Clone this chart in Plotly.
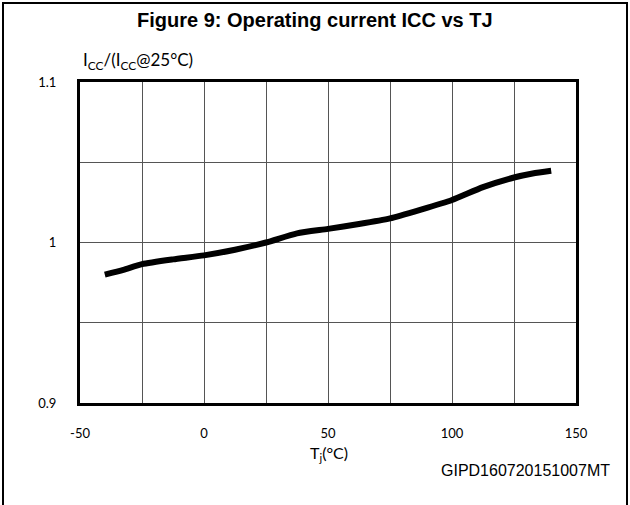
import plotly.graph_objects as go

# Data
tj = [-40, -32.5, -25, -12.5, 0, 12.5, 25, 37.5, 50, 62.5, 75, 87.5, 100, 112.5, 125, 132.5, 140]
icc_ratio = [0.980, 0.983, 0.9865, 0.9895, 0.992, 0.9955, 1.000, 1.0057, 1.0085, 1.0115,
             1.015, 1.0205, 1.0265, 1.0345, 1.0405, 1.043, 1.0447]

x_ticks = [-50, 0, 50, 100, 150]
x_ticktext = ["-50", "0", "50", "100", "150"]
y_ticks = [0.9, 1.0, 1.1]
y_ticktext = ["0.9", "1", "1.1"]

title_text = "<b>Figure 9: Operating current ICC vs TJ</b>"
y_label = "I<sub>CC</sub>/(I<sub>CC</sub>@25°C)"
x_label = "T<sub>j</sub>(°C)"
code_text = "GIPD160720151007MT"

W, H = 630, 505
L, R, T, B = 80, 54, 82, 102
pw, ph = W - L - R, H - T - B

def px_x(p):
    return (p - L) / pw

def px_y(p):
    return (H - B - p) / ph

tick_font = dict(family="Lato, Open Sans, sans-serif", size=13, color="#000")

fig = go.Figure()
fig.add_trace(go.Scatter(
    x=tj, y=icc_ratio, mode="lines",
    line=dict(color="black", width=6, shape="spline", smoothing=0.6),
    hoverinfo="skip", showlegend=False,
))

axis_common = dict(
    showline=True, linecolor="black", linewidth=3, mirror=True,
    showgrid=True, gridcolor="#555", gridwidth=1,
    zeroline=False, ticks="", tickfont=tick_font,
)

fig.update_xaxes(
    range=[-50, 150], tickvals=x_ticks, ticktext=x_ticktext,
    minor=dict(dtick=25, tick0=-50, showgrid=True, gridcolor="#555", gridwidth=1),
    ticklabelstandoff=16,
    **axis_common,
)
fig.update_yaxes(
    range=[0.9, 1.1], tickvals=y_ticks, ticktext=y_ticktext,
    minor=dict(dtick=0.05, tick0=0.9, showgrid=True, gridcolor="#555", gridwidth=1),
    ticklabelstandoff=18,
    **axis_common,
)

annotations = [
    dict(text=title_text, x=px_x(315), y=px_y(20), xref="paper", yref="paper",
         xanchor="center", yanchor="middle", showarrow=False,
         font=dict(family="Liberation Sans, Arial, sans-serif", size=20, color="#000")),
    dict(text=y_label, x=px_x(81), y=px_y(61), xref="paper", yref="paper",
         xanchor="left", yanchor="middle", showarrow=False,
         font=dict(family="Lato, Open Sans, sans-serif", size=17, color="#000")),
    dict(text=x_label, x=px_x(329), y=px_y(454), xref="paper", yref="paper",
         xanchor="center", yanchor="middle", showarrow=False,
         font=dict(family="Lato, Open Sans, sans-serif", size=16, color="#000")),
    dict(text=code_text, x=px_x(612), y=px_y(470), xref="paper", yref="paper",
         xanchor="right", yanchor="middle", showarrow=False,
         font=dict(family="Liberation Sans, Arial, sans-serif", size=16, color="#000")),
]

shapes = [
    dict(type="rect", xref="paper", yref="paper",
         x0=px_x(3), x1=px_x(627), y0=px_y(530), y1=px_y(3),
         line=dict(color="black", width=2), fillcolor="rgba(0,0,0,0)", layer="below"),
]

fig.update_layout(
    width=W, height=H,
    margin=dict(l=L, r=R, t=T, b=B, pad=0),
    paper_bgcolor="white", plot_bgcolor="white",
    annotations=annotations, shapes=shapes,
    showlegend=False,
)

fig.write_html("out.html", config={"displayModeBar": False},
               post_script="document.body.style.margin='0';")
